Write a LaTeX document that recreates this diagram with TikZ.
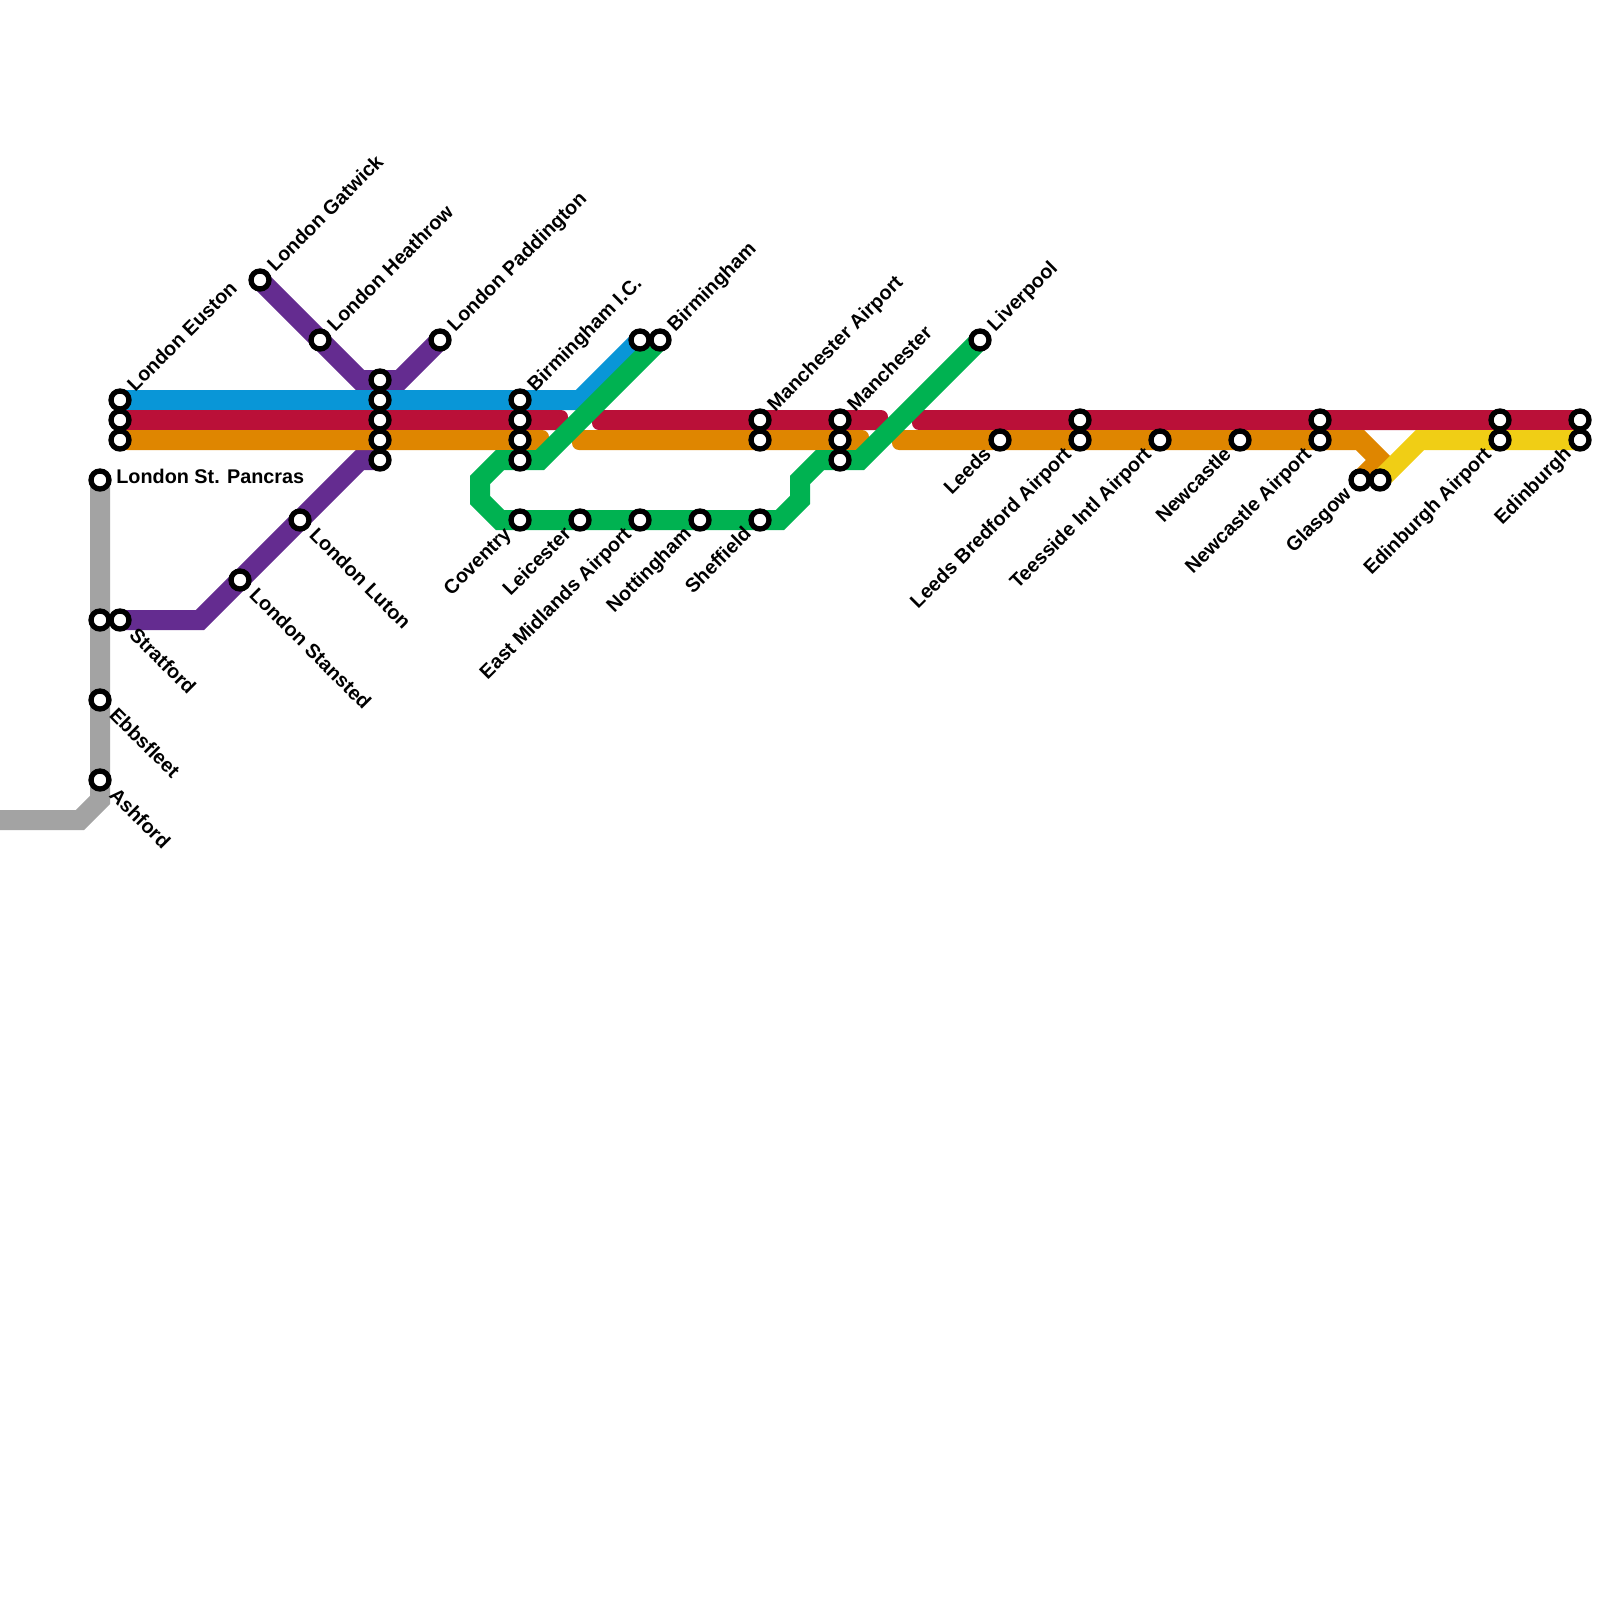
\documentclass[tikz,border=0pt]{standalone}
\usepackage{fontspec}
\setmainfont{Liberation Sans}
\usetikzlibrary{backgrounds}
\definecolor{railblue}{HTML}{0996D7}
\definecolor{railred}{HTML}{BA1038}
\definecolor{railorange}{HTML}{DF8600}
\definecolor{railpurple}{HTML}{642C90}
\definecolor{railgreen}{HTML}{00B251}
\definecolor{railyellow}{HTML}{F0CE15}
\definecolor{railgray}{HTML}{A3A3A3}
\tikzset{
  stn/.style={circle, draw=black, fill=white, line width=2.65pt, minimum size=9pt, inner sep=0pt, outer sep=0pt},
  railline/.style={line width=10pt},
  railbar/.style={rounded corners=3.5pt},
  lbl/.style={font=\fontsize{9.9pt}{12pt}\bfseries, inner sep=0pt, text height=7.4pt, text depth=2pt},
  lblne/.style={lbl, rotate=45, anchor=west, xshift=8pt},
  lblse/.style={lbl, rotate=-45, anchor=west, xshift=8.5pt},
  lblsw/.style={lbl, rotate=45, anchor=east, xshift=-8pt}
}
\begin{document}
\begin{tikzpicture}[x=0.5pt, y=-0.5pt]
    \useasboundingbox (0,0) rectangle (1600,1600);

    % stations
    \node[stn] (eustonb) at (120,400) {};
    \node[stn] (eustonr) at (120,420) {};
    \node[stn] (eustono) at (120,440) {};
    \node[stn] (gatwick) at (260,280) {};
    \node[stn] (heathrow) at (320,340) {};
    \node[stn] (paddington) at (440,340) {};
    \node[stn] (kingsp) at (380,380) {};
    \node[stn] (kingsb) at (380,400) {};
    \node[stn] (kingsr) at (380,420) {};
    \node[stn] (kingso) at (380,440) {};
    \node[stn] (kingsq) at (380,460) {};
    \node[stn] (pancras) at (100,480) {};
    \node[stn] (stratfordg) at (100,620) {};
    \node[stn] (stratfordp) at (120,620) {};
    \node[stn] (ebbsfleet) at (100,700) {};
    \node[stn] (ashford) at (100,780) {};
    \node[stn] (stansted) at (240,580) {};
    \node[stn] (luton) at (300,520) {};
    \node[stn] (bhmicb) at (520,400) {};
    \node[stn] (bhmicr) at (520,420) {};
    \node[stn] (bhmico) at (520,440) {};
    \node[stn] (bhmicg) at (520,460) {};
    \node[stn] (coventry) at (520,520) {};
    \node[stn] (leicester) at (580,520) {};
    \node[stn] (emidlands) at (640,520) {};
    \node[stn] (nottingham) at (700,520) {};
    \node[stn] (sheffield) at (760,520) {};
    \node[stn] (bhamb) at (640,340) {};
    \node[stn] (bhamg) at (660,340) {};
    \node[stn] (manairr) at (760,420) {};
    \node[stn] (manairo) at (760,440) {};
    \node[stn] (manr) at (840,420) {};
    \node[stn] (mano) at (840,440) {};
    \node[stn] (mang) at (840,460) {};
    \node[stn] (liverpool) at (980,340) {};
    \node[stn] (leeds) at (1000,440) {};
    \node[stn] (lbar) at (1080,420) {};
    \node[stn] (lbao) at (1080,440) {};
    \node[stn] (teesside) at (1160,440) {};
    \node[stn] (newcastle) at (1240,440) {};
    \node[stn] (ncairr) at (1320,420) {};
    \node[stn] (ncairo) at (1320,440) {};
    \node[stn] (glasgowo) at (1360,480) {};
    \node[stn] (glasgowy) at (1380,480) {};
    \node[stn] (edairr) at (1500,420) {};
    \node[stn] (edairy) at (1500,440) {};
    \node[stn] (edinr) at (1580,420) {};
    \node[stn] (ediny) at (1580,440) {};

    % line bends and cut ends
    \coordinate (graya) at (100,800);
    \coordinate (grayb) at (80,820);
    \coordinate (grayc) at (0,820);
    \coordinate (purpa) at (360,380);
    \coordinate (purpb) at (400,380);
    \coordinate (purpc) at (200,620);
    \coordinate (purpd) at (360,460);
    \coordinate (bluea) at (580,400);
    \coordinate (reda) at (568,420);
    \coordinate (redb) at (592,420);
    \coordinate (redc) at (888,420);
    \coordinate (redd) at (912,420);
    \coordinate (orga) at (549,440);
    \coordinate (orgb) at (572,440);
    \coordinate (orgc) at (869,440);
    \coordinate (orgd) at (892,440);
    \coordinate (orge) at (1360,440);
    \coordinate (orgf) at (1380,460);
    \coordinate (yela) at (1420,440);
    \coordinate (grna) at (540,460);
    \coordinate (grnb) at (500,460);
    \coordinate (grnc) at (480,480);
    \coordinate (grnd) at (480,500);
    \coordinate (grne) at (500,520);
    \coordinate (grnf) at (780,520);
    \coordinate (grng) at (800,500);
    \coordinate (grnh) at (800,480);
    \coordinate (grni) at (820,460);
    \coordinate (grnj) at (860,460);

    \begin{scope}[on background layer]
        \draw[railline, railgray] (pancras.center) -- (graya) -- (grayb) -- (grayc);
        \draw[railline, railpurple] (gatwick.center) -- (purpa) -- (purpb) -- (paddington.center);
        \draw[railline, railpurple] (stratfordp.center) -- (purpc) -- (purpd) -- (kingsq.center);
        \draw[railline, railblue] (eustonb.center) -- (bluea) -- (bhamb.center);

        \fill[railbar, railred] ([yshift=5pt]eustonr.center) rectangle ([yshift=-5pt]reda);
        \fill[railbar, railred] ([yshift=5pt]redb) rectangle ([yshift=-5pt]redc);
        \fill[railbar, railred] ([yshift=5pt]redd) rectangle ([yshift=-5pt]edinr.center);

        \fill[railbar, railorange] ([yshift=5pt]eustono.center) rectangle ([yshift=-5pt]orga);
        \fill[railbar, railorange] ([yshift=5pt]orgb) rectangle ([yshift=-5pt]orgc);
        \fill[railbar, railorange] ([yshift=5pt]orgd) rectangle ([yshift=-5pt]leeds.center);
        \draw[railline, railorange] (leeds.center) -- (orge) -- (orgf) -- (glasgowo.center);

        \draw[railline, railyellow] (glasgowy.center) -- (yela) -- (ediny.center);
        \draw[railline, railgreen] (bhamg.center) -- (grna) -- (grnb) -- (grnc) -- (grnd) -- (grne) -- (grnf) -- (grng) -- (grnh) -- (grni) -- (grnj) -- (liverpool.center);
    \end{scope}

    % labels
    \node[lbl, anchor=west, xshift=8pt, yshift=0.8pt] (pancraslbl) at (pancras) {London St. Pancras};
    \node[lblne] (eustonlbl) at (eustonb) {London Euston};
    \node[lblne] (gatwicklbl) at (gatwick) {London Gatwick};
    \node[lblne] (heathrowlbl) at (heathrow) {London Heathrow};
    \node[lblne] (paddingtonlbl) at (paddington) {London Paddington};
    \node[lblne] (bhmiclbl) at (bhmicb) {Birmingham I.C.};
    \node[lblne] (bhamlbl) at (bhamg) {Birmingham};
    \node[lblne] (manairlbl) at (manairr) {Manchester Airport};
    \node[lblne] (manlbl) at (manr) {Manchester};
    \node[lblne] (liverpoollbl) at (liverpool) {Liverpool};

    \node[lblse] (stratfordlbl) at (stratfordp) {Stratford};
    \node[lblse] (ebbsfleetlbl) at (ebbsfleet) {Ebbsfleet};
    \node[lblse] (ashfordlbl) at (ashford) {Ashford};
    \node[lblse] (stanstedlbl) at (stansted) {London Stansted};
    \node[lblse] (lutonlbl) at (luton) {London Luton};

    \node[lblsw] (coventrylbl) at (coventry) {Coventry};
    \node[lblsw] (leicesterlbl) at (leicester) {Leicester};
    \node[lblsw] (emidlandslbl) at (emidlands) {East Midlands Airport};
    \node[lblsw] (nottinghamlbl) at (nottingham) {Nottingham};
    \node[lblsw] (sheffieldlbl) at (sheffield) {Sheffield};
    \node[lblsw] (leedslbl) at (leeds) {Leeds};
    \node[lblsw] (lbalbl) at (lbao) {Leeds Bredford Airport};
    \node[lblsw] (teessidelbl) at (teesside) {Teesside Intl Airport};
    \node[lblsw] (newcastlelbl) at (newcastle) {Newcastle};
    \node[lblsw] (ncairlbl) at (ncairo) {Newcastle Airport};
    \node[lblsw] (glasgowlbl) at (glasgowo) {Glasgow};
    \node[lblsw] (edairlbl) at (edairy) {Edinburgh Airport};
    \node[lblsw] (edinlbl) at (ediny) {Edinburgh};
\end{tikzpicture}
\end{document}
